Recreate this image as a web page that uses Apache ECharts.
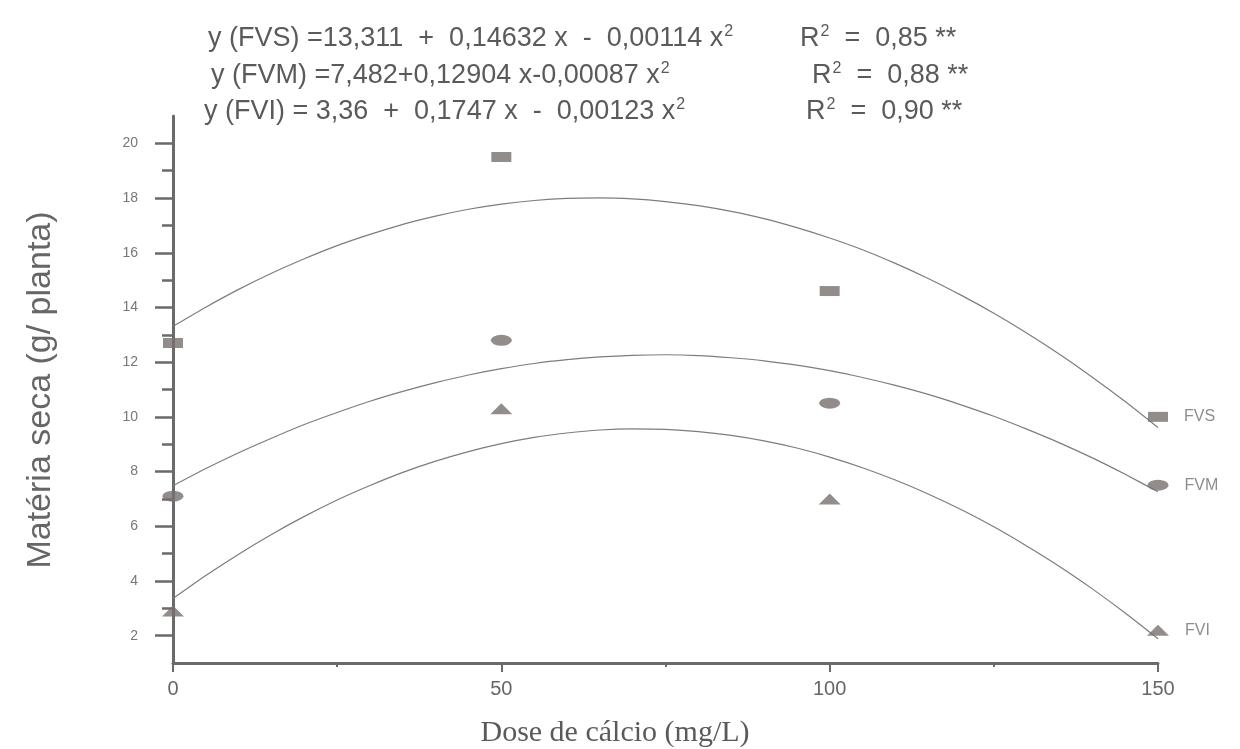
<!DOCTYPE html>
<html lang="pt">
<head>
    <meta charset="utf-8">
    <title>Matéria seca x Dose de cálcio</title>
    <script src="https://cdn.jsdelivr.net/npm/echarts@6/dist/echarts.min.js"></script>
</head>
<body style="margin:0;background:#fff;">
    <div id="main" style="width:1240px;height:749px;"></div>

    <script type="text/javascript">
    // doses (x) and observed means
    var doses = [0, 50, 100, 150];
    var fvsObs = [12.7, 19.5, 14.6, 10.0];
    var fvmObs = [7.1, 12.8, 10.5, 7.5];
    var fviObs = [2.9, 10.3, 7.0, 2.2];

    // fitted curves, every 5 mg/L
    var curveX = [0, 5, 10, 15, 20, 25, 30, 35, 40, 45, 50, 55, 60, 65, 70, 75,
                  80, 85, 90, 95, 100, 105, 110, 115, 120, 125, 130, 135, 140, 145, 150];
    var fvsFit = [13.31, 14.01, 14.66, 15.25, 15.78, 16.26, 16.67, 17.04, 17.34, 17.59, 17.78,
                  17.91, 17.99, 18.01, 17.97, 17.87, 17.72, 17.51, 17.25, 16.92, 16.54,
                  16.11, 15.61, 15.06, 14.45, 13.79, 13.07, 12.29, 11.45, 10.56, 9.61];
    var fvmFit = [7.48, 8.11, 8.69, 9.22, 9.72, 10.16, 10.57, 10.93, 11.25, 11.53, 11.76,
                  11.95, 12.09, 12.19, 12.25, 12.27, 12.24, 12.16, 12.05, 11.89, 11.69,
                  11.44, 11.15, 10.82, 10.44, 10.02, 9.55, 9.05, 8.50, 7.90, 7.26];
    var fviFit = [3.36, 4.20, 4.98, 5.70, 6.36, 6.96, 7.49, 7.97, 8.38, 8.73, 9.02,
                  9.25, 9.41, 9.52, 9.56, 9.54, 9.46, 9.32, 9.12, 8.86, 8.53,
                  8.14, 7.69, 7.18, 6.61, 5.98, 5.28, 4.53, 3.71, 2.83, 1.89];

    var yLabels = [2, 4, 6, 8, 10, 12, 14, 16, 18, 20];
    var yMinor = [3, 5, 7, 9, 11, 13, 15, 17, 19];

    var markColor = '#77716d';
    var lineColor = '#7d7d7d';
    var axisColor = '#6a6a6a';
    var textColor = '#5a5a5a';

    function pairs(xs, ys) {
        return xs.map(function (x, i) { return [x, ys[i]]; });
    }

    function obsSeries(name, values, symbol, size) {
        var data = pairs(doses, values);
        // tag at the right end of each group
        data[data.length - 1] = {
            value: data[data.length - 1],
            label: {
                show: true, position: 'right', distance: 16,
                formatter: name, color: '#707070', fontSize: 16,
                fontFamily: 'Liberation Sans'
            }
        };
        return {
            name: name, type: 'scatter', data: data,
            symbol: symbol, symbolSize: size,
            itemStyle: { color: markColor }, z: 3
        };
    }

    function fitSeries(name, values) {
        return {
            name: name, type: 'line', data: pairs(curveX, values),
            smooth: 0.2, showSymbol: false, symbol: 'none',
            lineStyle: { color: lineColor, width: 1.2 }, z: 2
        };
    }

    function eqText(x, y, txt) {
        return {
            type: 'text', x: x, y: y,
            style: {
                text: txt, fontSize: 27, fontFamily: 'Liberation Sans', fill: textColor,
                verticalAlign: 'middle',
                rich: { s: { fontSize: 16, verticalAlign: 'top', padding: [0, 0, 14, 1], fill: textColor } }
            }
        };
    }

    var myChart = echarts.init(document.getElementById('main'));

    myChart.setOption({
        backgroundColor: '#fff',
        animation: false,
        grid: { left: 173, right: 82, top: 116, bottom: 86 },
        graphic: [
            eqText(208, 39, 'y (FVS) =13,311  +  0,14632 x  -  0,00114 x{s|2}'),
            eqText(800, 39, 'R{s|2}  =  0,85 **'),
            eqText(211, 76, 'y (FVM) =7,482+0,12904 x-0,00087 x{s|2}'),
            eqText(812, 76, 'R{s|2}  =  0,88 **'),
            eqText(204, 112, 'y (FVI) = 3,36  +  0,1747 x  -  0,00123 x{s|2}'),
            eqText(806, 112, 'R{s|2}  =  0,90 **'),
            {
                type: 'text', x: 615, y: 733,
                style: {
                    text: 'Dose de cálcio (mg/L)', fontSize: 30, fontFamily: 'Liberation Serif',
                    fill: textColor, align: 'center', verticalAlign: 'middle'
                }
            },
            {
                type: 'text', x: 41, y: 390, rotation: Math.PI / 2,
                style: {
                    text: 'Matéria seca (g/ planta)', fontSize: 34, fontFamily: 'Liberation Sans',
                    fill: '#666', align: 'center', verticalAlign: 'middle'
                }
            }
        ],
        xAxis: {
            type: 'value', min: 0, max: 150, interval: 50,
            axisLine: { lineStyle: { color: axisColor, width: 3 } },
            axisTick: { length: 9, lineStyle: { color: axisColor, width: 2 } },
            minorTick: { show: true, splitNumber: 2, length: 4, lineStyle: { color: axisColor, width: 2 } },
            axisLabel: { fontFamily: 'Liberation Sans', fontSize: 20, color: '#666', margin: 16 },
            splitLine: { show: false }
        },
        yAxis: [{
            type: 'value', min: 1, max: 21,
            axisLine: { lineStyle: { color: axisColor, width: 3 } },
            axisTick: { customValues: yLabels, length: 18, lineStyle: { color: axisColor, width: 2.5 } },
            axisLabel: { customValues: yLabels, fontFamily: 'Liberation Sans', fontSize: 14, color: '#777', margin: 35 },
            splitLine: { show: false }
        }, {
            type: 'value', min: 1, max: 21, position: 'left',
            axisLine: { show: false },
            axisTick: { customValues: yMinor, length: 11, lineStyle: { color: axisColor, width: 2.5 } },
            axisLabel: { show: false },
            splitLine: { show: false }
        }],
        series: [
            fitSeries('FVS ajuste', fvsFit),
            fitSeries('FVM ajuste', fvmFit),
            fitSeries('FVI ajuste', fviFit),
            obsSeries('FVS', fvsObs, 'rect', [20, 10]),
            obsSeries('FVM', fvmObs, 'circle', [21, 11]),
            obsSeries('FVI', fviObs, 'triangle', [22, 11])
        ]
    });
    </script>
</body>
</html>
